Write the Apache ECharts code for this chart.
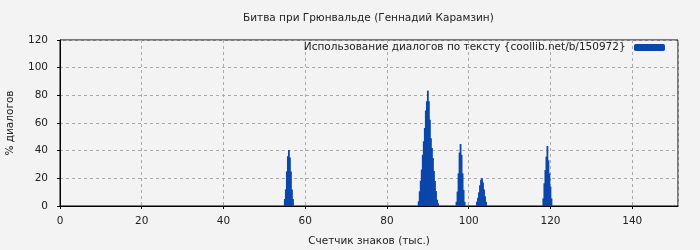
<!DOCTYPE html>
<html><head><meta charset="utf-8">
<script src="https://cdn.jsdelivr.net/npm/echarts@6/dist/echarts.min.js"></script>
<style>html,body{margin:0;padding:0;background:#f3f3f3}#c{width:700px;height:250px}</style>
</head><body><div id="c"></div>
<script>
const titleText = 'Битва при Грюнвальде (Геннадий Карамзин)';
const seriesName = 'Использование диалогов по тексту {coollib.net/b/150972}';
const xAxisName = 'Счетчик знаков (тыс.)';
const yAxisName = '% диалогов';

// peak positions (thousand chars) and values (% dialogs), step 0.25
const peak1X = [55, 55.25, 55.5, 55.75, 56, 56.25, 56.5, 56.75, 57];
const peak1Y = [5, 12, 25, 36, 40.5, 35, 25, 12, 5];
const peak2X = [87.75, 88, 88.25, 88.5, 88.75, 89, 89.25, 89.5, 89.75, 90, 90.25, 90.5, 90.75, 91, 91.25, 91.5, 91.75, 92, 92.25, 92.5];
const peak2Y = [3.4, 10.6, 18.3, 26.3, 37, 46.8, 56.4, 69, 75.7, 83.4, 75.7, 62.4, 49, 42, 34.7, 25.3, 18, 10.8, 4.6, 2];
const peak3X = [97, 97.25, 97.5, 97.75, 98, 98.25, 98.5, 98.75, 99];
const peak3Y = [3, 10.4, 23.6, 38.6, 44.8, 37, 23.6, 11.6, 3];
const peak4X = [102, 102.25, 102.5, 102.75, 103, 103.25, 103.5, 103.75, 104, 104.25];
const peak4Y = [3, 6, 10, 15, 19, 20, 17, 12, 7, 3];
const peak5X = [118.25, 118.5, 118.75, 119, 119.25, 119.5, 119.75, 120, 120.25];
const peak5Y = [5.5, 16.4, 26, 35.7, 43.4, 33, 23.6, 14, 5.5];

const allX = [].concat(peak1X, peak2X, peak3X, peak4X, peak5X);
const allY = [].concat(peak1Y, peak2Y, peak3Y, peak4Y, peak5Y);
const data = allX.map((x, i) => [x, allY[i]]);

const font = 'DejaVu Sans';
const fs = 10.5;
const chart = echarts.init(document.getElementById('c'), null, {renderer: 'canvas'});
chart.setOption({
  backgroundColor: '#f3f3f3',
  animation: false,
  textStyle: {fontFamily: font},
  title: {
    text: titleText, left: 238, top: 8,
    textStyle: {fontFamily: font, fontSize: fs, fontWeight: 'normal', color: '#222'}
  },
  legend: {
    data: [seriesName], right: 30, top: 37, align: 'right',
    itemWidth: 31, itemHeight: 7, itemGap: 8,
    formatter: name => name + ' ',
    textStyle: {fontFamily: font, fontSize: fs, color: '#222'}
  },
  grid: {left: 60, right: 22, top: 40, bottom: 44, containLabel: false, outerBoundsMode: 'none',
         show: true, borderColor: '#000', borderWidth: 1, backgroundColor: 'transparent'},
  xAxis: {
    type: 'value', min: 0, max: 151.2, interval: 20,
    name: xAxisName, nameLocation: 'middle', nameGap: 30,
    nameTextStyle: {fontFamily: font, fontSize: fs, color: '#222'},
    axisLine: {lineStyle: {color: '#000'}},
    axisTick: {show: true, inside: false, length: 3, lineStyle: {color: '#000'}},
    axisLabel: {fontFamily: font, fontSize: fs, color: '#222', showMaxLabel: false, margin: 10},
    splitLine: {show: true, lineStyle: {color: '#aaa', type: [3, 3], width: 1}}
  },
  yAxis: {
    type: 'value', min: 0, max: 120, interval: 20,
    name: yAxisName, nameLocation: 'middle', nameGap: 44,
    nameTextStyle: {fontFamily: font, fontSize: fs, color: '#222'},
    axisLine: {show: true, lineStyle: {color: '#000'}},
    axisTick: {show: true, length: 3, lineStyle: {color: '#000'}},
    axisLabel: {fontFamily: font, fontSize: fs, color: '#222', margin: 12},
    splitLine: {show: true, lineStyle: {color: '#aaa', type: [3, 3], width: 1}}
  },
  series: [{
    name: seriesName, type: 'bar', data: data,
    barWidth: 1.8, itemStyle: {color: '#0b46ab'}
  }]
});
</script></body></html>
